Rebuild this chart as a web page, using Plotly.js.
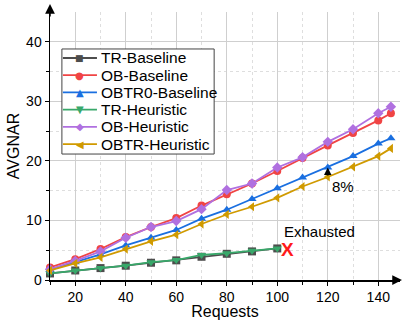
<!DOCTYPE html>
<html>
<head>
<meta charset="utf-8">
<script src="https://cdn.plot.ly/plotly-3.0.1.min.js"></script>
<style>html,body{margin:0;padding:0;background:#fff;}#chart{width:403px;height:320px;}</style>
</head>
<body>
<div id="chart"></div>
<script>
var requestsShort = [10, 20, 30, 40, 50, 60, 70, 80, 90, 100];
var requestsLong = [10, 20, 30, 40, 50, 60, 70, 80, 90, 100, 110, 120, 130, 140, 145];

var trBaseline = [1.1, 1.6, 2.0, 2.4, 2.9, 3.3, 3.9, 4.4, 4.8, 5.3];
var obBaseline = [2.1, 3.5, 5.2, 7.2, 8.9, 10.4, 12.5, 14.4, 16.2, 18.3, 20.5, 22.6, 24.7, 26.8, 28.0];
var obtr0Baseline = [1.7, 3.0, 4.3, 5.8, 7.1, 8.4, 10.3, 11.8, 13.6, 15.4, 17.2, 18.9, 20.8, 22.9, 23.8];
var trHeuristic = [1.1, 1.6, 2.0, 2.4, 3.0, 3.35, 4.2, 4.5, 4.9, 5.3];
var obHeuristic = [1.8, 3.2, 4.8, 7.1, 8.9, 9.9, 11.9, 15.1, 16.2, 18.9, 20.6, 23.2, 25.3, 28.0, 29.1];
var obtrHeuristic = [1.6, 2.8, 3.8, 5.2, 6.5, 7.6, 9.4, 11.0, 12.3, 13.8, 15.7, 17.3, 19.0, 20.8, 22.1];

var seriesNames = ['TR-Baseline', 'OB-Baseline', 'OBTR0-Baseline', 'TR-Heuristic', 'OB-Heuristic', 'OBTR-Heuristic'];
var xTickVals = [20, 40, 60, 80, 100, 120, 140];
var yTickVals = [0, 10, 20, 30, 40];

var colors = ['#4d4d4d', '#f04444', '#1a6fe0', '#38a86a', '#b070e0', '#d09a00'];
var symbols = ['square', 'circle', 'triangle-up', 'triangle-down', 'diamond', 'triangle-left'];
var legendGlyphs = ['\u25A0', '\u25CF', '\u25B2', '\u25BC', '\u25C6', '\u25C0'];
var xs = [requestsShort, requestsLong, requestsLong, requestsShort, requestsLong, requestsLong];
var ys = [trBaseline, obBaseline, obtr0Baseline, trHeuristic, obHeuristic, obtrHeuristic];

var FONT = "'Liberation Sans', Arial, Helvetica, sans-serif";

var traces = seriesNames.map(function (n, i) {
  return {
    x: xs[i], y: ys[i], name: n, type: 'scatter', mode: 'lines+markers',
    line: {color: colors[i], width: 1.8},
    marker: {color: colors[i], symbol: symbols[i], size: 8},
    cliponaxis: false, showlegend: false
  };
});

// Custom legend box in paper coordinates (drawn above the grid)
var legendDomX = [0.034, 0.469], legendDomY = [0.470, 0.862];
var legendW = 152, legendH = 105;
var legendRowStep = 17.2, legendRowStart = 9;
function lpx(u) { return legendDomX[0] + u / legendW * (legendDomX[1] - legendDomX[0]); }
function lpy(v) { return legendDomY[1] - v / legendH * (legendDomY[1] - legendDomY[0]); }

var shapes = [
  {type: 'rect', xref: 'paper', yref: 'paper', x0: legendDomX[0], x1: legendDomX[1], y0: legendDomY[0], y1: legendDomY[1],
   fillcolor: '#fff', line: {color: '#444', width: 1}, layer: 'above'}
];
var annotations = [];
seriesNames.forEach(function (n, i) {
  var rowY = legendRowStart + legendRowStep * i;
  shapes.push({type: 'line', xref: 'paper', yref: 'paper', x0: lpx(1), x1: lpx(35), y0: lpy(rowY), y1: lpy(rowY),
    line: {color: colors[i], width: 1.8}, layer: 'above'});
  annotations.push({
    xref: 'paper', yref: 'paper', x: lpx(18), y: lpy(rowY), xanchor: 'center', yanchor: 'middle',
    showarrow: false, text: legendGlyphs[i], font: {family: 'DejaVu Sans', size: (i === 0 ? 9 : 10), color: colors[i]}
  });
  annotations.push({
    xref: 'paper', yref: 'paper', x: lpx(37), y: lpy(rowY), xanchor: 'left', yanchor: 'middle',
    showarrow: false, text: n, font: {family: FONT, size: 15.5, color: '#000'}
  });
});

annotations = annotations.concat([
  {xref: 'paper', yref: 'paper', x: 0, y: 1.03, ax: 0, ay: 14, showarrow: true, arrowhead: 2, arrowsize: 1.3, arrowwidth: 1.5, arrowcolor: '#000', text: ''},
  {xref: 'paper', yref: 'paper', x: 1.008, y: 0, ax: -10, ay: 0, showarrow: true, arrowhead: 2, arrowsize: 1.3, arrowwidth: 1.5, arrowcolor: '#000', text: ''},
  {xref: 'x', yref: 'y', axref: 'x', ayref: 'y', x: 120, y: 18.9, ax: 120, ay: 17.3, showarrow: true, arrowhead: 2, arrowsize: 1, arrowwidth: 1.5, arrowcolor: '#000', text: ''},
  {xref: 'x', yref: 'y', x: 121, y: 15.7, xanchor: 'left', yanchor: 'middle', showarrow: false, text: '8%', font: {family: FONT, size: 15, color: '#000'}},
  {xref: 'x', yref: 'y', x: 102, y: 8.1, xanchor: 'left', yanchor: 'middle', showarrow: false, text: 'Exhausted', font: {family: FONT, size: 15, color: '#000'}},
  {xref: 'x', yref: 'y', x: 104, y: 5.1, xanchor: 'center', yanchor: 'middle', showarrow: false, text: '<b>X</b>', font: {family: FONT, size: 19, color: '#ff1a1a'}}
]);

var layout = {
  width: 403, height: 320,
  margin: {l: 50, r: 3, t: 12, b: 40},
  paper_bgcolor: '#fff', plot_bgcolor: '#fff',
  font: {family: FONT, size: 15, color: '#000'},
  showlegend: false,
  xaxis: {
    range: [10, 148.6], tickvals: xTickVals, ticks: 'outside', ticklen: 4,
    tickcolor: '#000', showline: true, linecolor: '#000', linewidth: 1.5,
    showgrid: true, gridcolor: '#cfcfcf', gridwidth: 1, zeroline: false,
    tickfont: {family: FONT, size: 14},
    title: {text: 'Requests', font: {family: FONT, size: 16}, standoff: 4},
    minor: {dtick: 10, tick0: 0, ticks: 'outside', ticklen: 3, tickcolor: '#000', showgrid: true, gridcolor: '#dedede', griddash: 'dot'}
  },
  yaxis: {
    range: [0, 45], tickvals: yTickVals, ticks: 'outside', ticklen: 4,
    tickcolor: '#000', showline: true, linecolor: '#000', linewidth: 1.5,
    showgrid: true, gridcolor: '#cfcfcf', gridwidth: 1, zeroline: false,
    tickfont: {family: FONT, size: 14},
    title: {text: 'AVGNAR', font: {family: FONT, size: 16}, standoff: 2},
    minor: {dtick: 5, tick0: 0, ticks: 'outside', ticklen: 3, tickcolor: '#000', showgrid: true, gridcolor: '#dedede', griddash: 'dot'}
  },
  shapes: shapes,
  annotations: annotations
};

Plotly.newPlot('chart', traces, layout, {displayModeBar: false, staticPlot: true});
</script>
</body>
</html>
